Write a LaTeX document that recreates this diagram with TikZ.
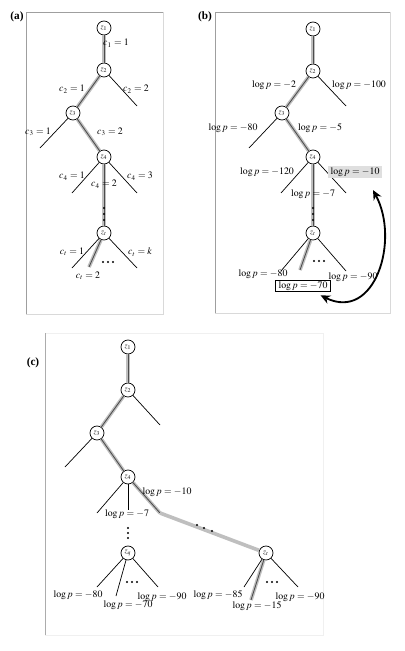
\documentclass[tikz,border=0pt]{standalone}
\usepackage{amsmath}
\usepackage{mathptmx}
\usepackage[no-math]{fontspec}
\setmainfont{Liberation Serif}
\usepackage{tikz}
\usetikzlibrary{arrows.meta,calc}

\begin{document}
\begin{tikzpicture}[
    x=0.025cm, y=-0.025cm,
    zn/.style={circle, draw, line width=0.5pt, fill=white, minimum size=0.35cm, inner sep=0pt, font=\fontsize{5.5}{5.5}\selectfont},
    branch/.style={line width=0.5pt},
    best/.style={line width=0.6pt, draw=black!70, preaction={draw=gray!50, line width=2.6pt}},
    band/.style={line width=2.6pt, draw=gray!50},
    lab/.style={font=\fontsize{7}{8}\selectfont, inner sep=1pt},
    tag/.style={font=\fontsize{8}{9}\selectfont\bfseries},
    bigarrow/.style={{Stealth[length=2.4mm,width=2.2mm]}-{Stealth[length=2.4mm,width=2.2mm]}, line width=1.3pt}
]
\useasboundingbox (0,0) rectangle (405,651);

% Frames
\draw[gray!30, line width=0.6pt] (26,12) rectangle (163,314);
\draw[gray!75, line width=0.6pt] (26,314) -- (26,12) -- (163,12);
\draw[gray!30, line width=0.6pt] (215,12) rectangle (390,313);
\draw[gray!75, line width=0.6pt] (215,313) -- (215,12) -- (390,12);
\draw[gray!12, line width=0.6pt] (45,333) rectangle (323,635);
\draw[gray!65, line width=0.6pt] (45,333) -- (45,635);

\node[tag] (taga) at (17,17) {(a)};
\node[tag] (tagb) at (205,17) {(b)};
\node[tag] (tagc) at (33,363) {(c)};

% ---------------- Panel (a) ----------------
\node[zn] (a1) at (104,28) {$z_1$};
\node[zn] (a2) at (104,70) {$z_2$};
\node[zn] (a3) at (73,113) {$z_3$};
\node[zn] (a4) at (104,157) {$z_4$};
\node[zn] (a5) at (104,233) {$z_t$};
\coordinate (a2r) at (137,106);
\coordinate (a3l) at (40,148);
\coordinate (a4l) at (72,193);
\coordinate (a4r) at (137,193);
\coordinate (a5l) at (72,268);
\coordinate (a5m) at (89,267);
\coordinate (a5r) at (137,268);

\draw[best] (a1) -- (a2);
\draw[best] (a2) -- (a3);
\draw[best] (a3) -- (a4);
\draw[best] (a4) -- (a5);
\draw[best] (a5) -- (a5m);
\draw[branch] (a2) -- (a2r);
\draw[branch] (a3) -- (a3l);
\draw[branch] (a4) -- (a4l);
\draw[branch] (a4) -- (a4r);
\draw[branch] (a5) -- (a5l);
\draw[branch] (a5) -- (a5r);
\foreach \y in {208,214,220} \fill (104,\y) circle (1.2);
\foreach \x in {103,108,113} \fill (\x,262) circle (1.1);

\node[lab] (ac1) at (116,43) {$c_1=1$};
\node[lab] (ac21) at (72,89) {$c_2=1$};
\node[lab] (ac22) at (136,89) {$c_2=2$};
\node[lab] (ac31) at (38,132) {$c_3=1$};
\node[lab] (ac32) at (110,132) {$c_3=2$};
\node[lab] (ac41) at (72,176) {$c_4=1$};
\node[lab] (ac42) at (104,184) {$c_4=2$};
\node[lab] (ac43) at (140,176) {$c_4=3$};
\node[lab] (act1) at (72,252) {$c_t=1$};
\node[lab] (actk) at (140,252) {$c_t=k$};
\node[lab] (act2) at (88,276) {$c_t=2$};

% ---------------- Panel (b) ----------------
\node[zn] (b1) at (313,29) {$z_1$};
\node[zn] (b2) at (313,71) {$z_2$};
\node[zn] (b3) at (282,113) {$z_3$};
\node[zn] (b4) at (313,157) {$z_4$};
\node[zn] (b5) at (313,233) {$z_t$};
\coordinate (b2r) at (346,106);
\coordinate (b3l) at (249,148);
\coordinate (b4l) at (281,193);
\coordinate (b4r) at (346,193);
\coordinate (b5l) at (281,271);
\coordinate (b5m) at (300,270);
\coordinate (b5r) at (346,271);

\draw[best] (b1) -- (b2);
\draw[best] (b2) -- (b3);
\draw[best] (b3) -- (b4);
\draw[best] (b4) -- (b5);
\draw[best] (b5) -- (b5m);
\draw[branch] (b2) -- (b2r);
\draw[branch] (b3) -- (b3l);
\draw[branch] (b4) -- (b4l);
\draw[branch] (b4) -- (b4r);
\draw[branch] (b5) -- (b5l);
\draw[branch] (b5) -- (b5r);
\foreach \y in {208,214,220} \fill (313,\y) circle (1.2);
\foreach \x in {314,319,324} \fill (\x,261) circle (1.1);

\node[lab] (bp2) at (274,85) {$\log p=-2$};
\node[lab] (bp100) at (359,85) {$\log p=-100$};
\node[lab] (bp80a) at (233,128) {$\log p=-80$};
\node[lab] (bp5) at (320,128) {$\log p=-5$};
\node[lab] (bp120) at (267,172) {$\log p=-120$};
\node[lab, fill=gray!25, inner xsep=2pt] (m10) at (355,172) {$\log p=-10$};
\node[lab] (bp7) at (313,194) {$\log p=-7$};
\node[lab] (bp80b) at (263,274) {$\log p=-80$};
\node[lab] (bp90) at (353,277) {$\log p=-90$};
\node[lab, draw, line width=0.5pt, inner xsep=2pt] (m70) at (303,286) {$\log p=-70$};

\draw[bigarrow] ([xshift=-0.25cm, yshift=-0.08cm]m70.south east)
  .. controls (375,322) and (400,240) .. ([xshift=0.45cm, yshift=-0.3cm]m10.south);

% ---------------- Panel (c) ----------------
\node[zn] (c1) at (128,347) {$z_1$};
\node[zn] (c2) at (128,390) {$z_2$};
\node[zn] (c3) at (97,433) {$z_3$};
\node[zn] (c4) at (128,477) {$z_4$};
\node[zn] (c5) at (128,553) {$z_q$};
\node[zn] (c6) at (266,553) {$z_t$};
\coordinate (c2r) at (160,425);
\coordinate (c3l) at (65,467);
\coordinate (c4l) at (97,513);
\coordinate (c4m) at (128,510);
\coordinate (c4r) at (160,513);
\coordinate (c5l) at (97,587);
\coordinate (c5m) at (116,596);
\coordinate (c5r) at (158,587);
\coordinate (c6l) at (244,587);
\coordinate (c6m) at (251,600);
\coordinate (c6r) at (298,587);

\draw[best] (c1) -- (c2);
\draw[best] (c2) -- (c3);
\draw[best] (c3) -- (c4);
\draw[best] (c4) -- (c4r);
\draw[band] (c4r) -- (c6);
\draw[best] (c6) -- (c6m);
\draw[branch] (c2) -- (c2r);
\draw[branch] (c3) -- (c3l);
\draw[branch] (c4) -- (c4l);
\draw[branch] (c4) -- (c4m);
\draw[branch] (c5) -- (c5l);
\draw[branch] (c5) -- (c5m);
\draw[branch] (c5) -- (c5r);
\draw[branch] (c6) -- (c6l);
\draw[branch] (c6) -- (c6r);
\foreach \y in {528,533,538} \fill (128,\y) circle (1.2);
\foreach \x/\y in {197/525,204/528,212/531} \fill (\x,\y) circle (1.2);
\foreach \x in {127,132,137} \fill (\x,582) circle (1.1);
\foreach \x in {267,272,277} \fill (\x,582) circle (1.1);

\node[lab] (cp10) at (167,492) {$\log p=-10$};
\node[lab] (cp7) at (127,514) {$\log p=-7$};
\node[lab] (cp80) at (78,595) {$\log p=-80$};
\node[lab] (cp70) at (128,605) {$\log p=-70$};
\node[lab] (cp90a) at (162,597) {$\log p=-90$};
\node[lab] (cp85) at (218,595) {$\log p=-85$};
\node[lab] (cp15) at (257,606) {$\log p=-15$};
\node[lab] (cp90b) at (300,597) {$\log p=-90$};

\end{tikzpicture}
\end{document}
